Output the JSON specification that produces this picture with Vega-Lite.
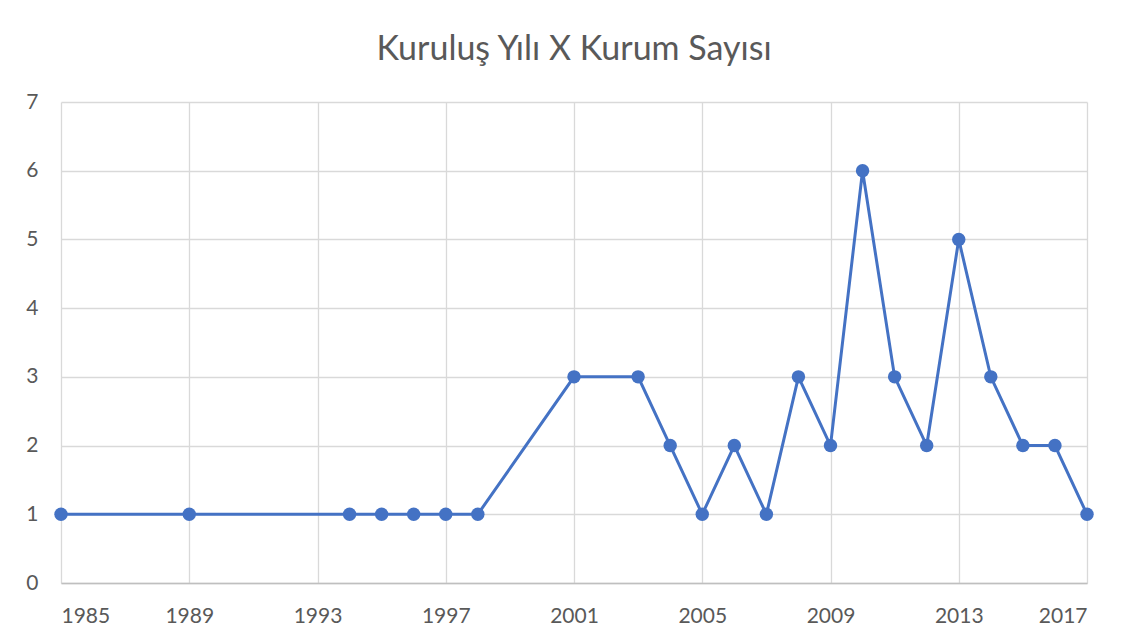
{
  "$schema": "https://vega.github.io/schema/vega-lite/v6.json",
  "autosize": {"type": "none"},
  "width": 1026,
  "height": 481,
  "padding": {"left": 61, "top": 102, "right": 50, "bottom": 59},
  "background": "white",
  "title": {
    "text": "Kuruluş Yılı X Kurum Sayısı",
    "font": "Lato",
    "fontSize": 34,
    "fontWeight": "normal",
    "color": "#595959",
    "anchor": "middle",
    "baseline": "alphabetic",
    "offset": -3
  },
  "config": {
    "view": {"stroke": null},
    "axis": {
      "labelFont": "Lato",
      "labelFontSize": 21,
      "labelColor": "#595959",
      "gridColor": "#d9d9d9",
      "gridWidth": 1.3,
      "ticks": false,
      "title": null
    }
  },
  "data": {
    "values": [
      {"year": 1985, "count": 1},
      {"year": 1989, "count": 1},
      {"year": 1994, "count": 1},
      {"year": 1995, "count": 1},
      {"year": 1996, "count": 1},
      {"year": 1997, "count": 1},
      {"year": 1998, "count": 1},
      {"year": 2001, "count": 3},
      {"year": 2003, "count": 3},
      {"year": 2004, "count": 2},
      {"year": 2005, "count": 1},
      {"year": 2006, "count": 2},
      {"year": 2007, "count": 1},
      {"year": 2008, "count": 3},
      {"year": 2009, "count": 2},
      {"year": 2010, "count": 6},
      {"year": 2011, "count": 3},
      {"year": 2012, "count": 2},
      {"year": 2013, "count": 5},
      {"year": 2014, "count": 3},
      {"year": 2015, "count": 2},
      {"year": 2016, "count": 2},
      {"year": 2017, "count": 1}
    ]
  },
  "encoding": {
    "x": {
      "field": "year",
      "type": "quantitative",
      "scale": {"domain": [1985, 2017], "nice": false, "zero": false},
      "axis": {
        "values": [1985, 1989, 1993, 1997, 2001, 2005, 2009, 2013, 2017],
        "format": "d",
        "labelPadding": 22,
        "domain": true,
        "domainColor": "#bfbfbf",
        "domainWidth": 1.5
      }
    },
    "y": {
      "field": "count",
      "type": "quantitative",
      "scale": {"domain": [0, 7], "nice": false},
      "axis": {
        "values": [0, 1, 2, 3, 4, 5, 6, 7],
        "labelPadding": 23,
        "domain": false
      }
    }
  },
  "layer": [
    {"mark": {"type": "line", "color": "#4472C4", "strokeWidth": 3}},
    {"mark": {"type": "point", "filled": true, "color": "#4472C4", "size": 180, "opacity": 1}}
  ]
}
